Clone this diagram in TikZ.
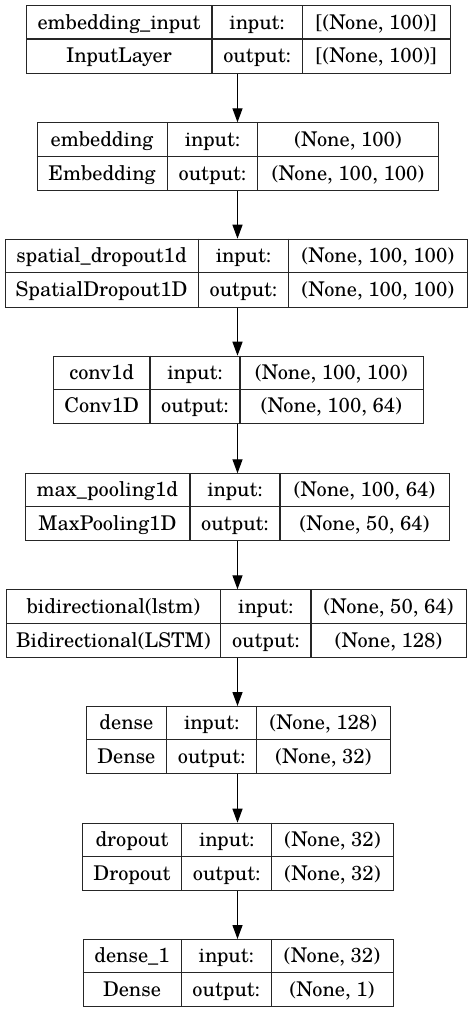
\documentclass[tikz,border=0pt]{standalone}
\usepackage{fontspec}
\setmainfont{TeX Gyre Schola}
\usetikzlibrary{arrows.meta}
\begin{document}
\begin{tikzpicture}[x=1pt,y=-1pt,
  box/.style={draw=black!85, line width=1.1pt, inner sep=0pt, fill=none},
  cell/.style={draw=black!85, line width=1.1pt},
  lbl/.style={font=\fontsize{20.3}{24}\selectfont, inner sep=0pt, anchor=base, text=black},
  arr/.style={-{Triangle[length=14pt,width=10pt]}, line width=1.3pt, draw=black}]
\fill[white] (0,0) rectangle (476,1013);
\useasboundingbox (0,0) rectangle (476,1013);
\foreach \nm/\xa/\xb/\ya/\yb/\xc/\xd/\txa/\txb/\txc/\txd in {
 b1/26/450/5.3/72.7/212/302.3/{embedding\_input}/{InputLayer}/{[(None, 100)]}/{[(None, 100)]},
 b2/36.7/438.3/122.3/190/167.3/257.7/{embedding}/{Embedding}/{(None, 100)}/{(None, 100, 100)},
 b3/4.7/467/238.7/306.7/198.3/288.7/{spatial\_dropout1d}/{SpatialDropout1D}/{(None, 100, 100)}/{(None, 100, 100)},
 b4/53.3/422.7/355.7/422.7/150/240/{conv1d}/{Conv1D}/{(None, 100, 100)}/{(None, 100, 64)},
 b5/24.7/449/473.3/540/190/280/{max\_pooling1d}/{MaxPooling1D}/{(None, 100, 64)}/{(None, 50, 64)},
 b6/6/466/589.3/657.3/220.7/311/{bidirectional(lstm)}/{Bidirectional(LSTM)}/{(None, 50, 64)}/{(None, 128)},
 b7/86/390/706/772.7/166.7/256.7/{dense}/{Dense}/{(None, 128)}/{(None, 32)},
 b8/82.3/393.3/822.7/890/181.7/271.7/{dropout}/{Dropout}/{(None, 32)}/{(None, 32)},
 b9/82.7/392.7/939/1006/181.3/271.3/{dense\_1}/{Dense}/{(None, 32)}/{(None, 1)}}
{
  \pgfmathsetmacro\ym{(\ya+\yb)/2}
  \pgfmathsetmacro\bxw{\xb-\xa}
  \pgfmathsetmacro\bxh{\yb-\ya}
  \pgfmathsetmacro\ra{(\ya+\ym)/2+7}
  \pgfmathsetmacro\rb{(\ym+\yb)/2+7}
  \node[box, anchor=north west, minimum width=\bxw pt, minimum height=\bxh pt] (\nm) at (\xa,\ya) {};
  \draw[cell] (\xa,\ym) -- (\xb,\ym) (\xc,\ya) -- (\xc,\yb) (\xd,\ya) -- (\xd,\yb);
  \node[lbl] (\nm n) at ({(\xa+\xc)/2},\ra) {\txa};
  \node[lbl] (\nm t) at ({(\xa+\xc)/2},\rb) {\txb};
  \node[lbl] (\nm i) at ({(\xc+\xd)/2},\ra) {input:};
  \node[lbl] (\nm o) at ({(\xc+\xd)/2},\rb) {output:};
  \node[lbl] (\nm ai) at ({(\xd+\xb)/2},\ra) {\txc};
  \node[lbl] (\nm ao) at ({(\xd+\xb)/2},\rb) {\txd};
}
\coordinate (ax) at (237.5,0);
\foreach \i [evaluate=\i as \j using int(\i+1)] in {1,...,8}
  \draw[arr] (b\i.south -| ax) -- (b\j.north -| ax);
\end{tikzpicture}
\end{document}
